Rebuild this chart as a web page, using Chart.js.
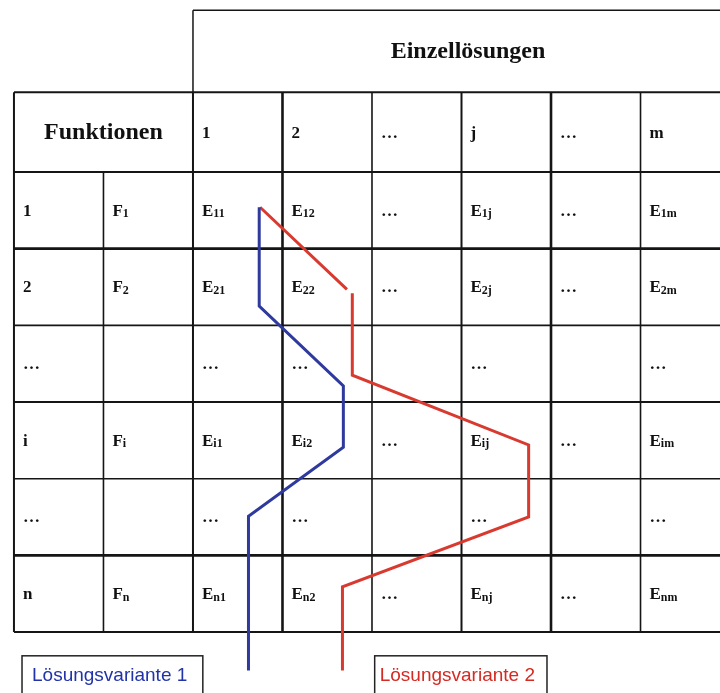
<!DOCTYPE html>
<html>
<head>
<meta charset="utf-8">
<script src="https://cdn.jsdelivr.net/npm/chart.js@4.4.0/dist/chart.umd.min.js"></script>
<style>
    html, body { margin: 0; padding: 0; background: #fff; }
</style>
</head>
<body>
<canvas id="morph_box" width="720" height="693"></canvas>
<script>
// table content
const topTitle = 'Einzellösungen';
const sideTitle = 'Funktionen';
const colHeaders = ['1', '2', '…', 'j', '…', 'm'];
const rowLabels = ['1', '2', '…', 'i', '…', 'n'];
const funcLabels = [['F', '1'], ['F', '2'], ['', ''], ['F', 'i'], ['', ''], ['F', 'n']];
const cells = [
    [['E', '11'], ['E', '12'], ['…', ''], ['E', '1j'], ['…', ''], ['E', '1m']],
    [['E', '21'], ['E', '22'], ['…', ''], ['E', '2j'], ['…', ''], ['E', '2m']],
    [['…', ''], ['…', ''], ['', ''], ['…', ''], ['', ''], ['…', '']],
    [['E', 'i1'], ['E', 'i2'], ['…', ''], ['E', 'ij'], ['…', ''], ['E', 'im']],
    [['…', ''], ['…', ''], ['', ''], ['…', ''], ['', ''], ['…', '']],
    [['E', 'n1'], ['E', 'n2'], ['…', ''], ['E', 'nj'], ['…', ''], ['E', 'nm']]
];

// solution paths, in cell units (x = column, y = row)
const variantNames = ['Lösungsvariante 1', 'Lösungsvariante 2'];
const variant1X = [2.74, 2.74, 3.68, 3.68, 2.62, 2.62];
const variant1Y = [0.46, 1.75, 2.79, 3.59, 4.49, 6.50];
const variant2X = [2.75, 3.72, null, 3.78, 3.78, 5.75, 5.75, 3.67, 3.67];
const variant2Y = [0.46, 1.53, null, 1.58, 2.65, 3.56, 4.50, 5.41, 6.50];

const toPoints = function (xs, ys) {
    return xs.map(function (x, i) {
        return { x: x === null ? NaN : x, y: ys[i] === null ? NaN : ys[i] };
    });
};

const serif = '"Liberation Serif", "DejaVu Serif", serif';
const sans = '"Liberation Sans", Arial, sans-serif';

function drawLabel(ctx, x, y, base, sub) {
    ctx.font = 'bold 17px ' + serif;
    ctx.fillText(base, x, y);
    if (sub) {
        let w = ctx.measureText(base).width;
        ctx.font = 'bold 12px ' + serif;
        ctx.fillText(sub, x + w, y + 3);
    }
}

const tablePlugin = {
    id: 'tablePlugin',
    beforeDatasetsDraw: function (chart) {
        const ctx = chart.ctx;
        const sx = chart.scales.x;
        const sy = chart.scales.y;
        const X = function (v) { return sx.getPixelForValue(v); };
        const Y = function (v) { return sy.getPixelForValue(v); };
        const right = chart.width + 5;
        const headTop = -1.04;
        const boxTop = -2.11;
        const nRows = rowLabels.length;
        const nCols = colHeaders.length + 2;

        ctx.save();
        ctx.strokeStyle = '#151515';
        const line = function (x1, y1, x2, y2, w) {
            ctx.lineWidth = w;
            ctx.beginPath();
            ctx.moveTo(x1, y1);
            ctx.lineTo(x2, y2);
            ctx.stroke();
        };
        // title box
        line(X(2), Y(boxTop), right, Y(boxTop), 1.5);
        line(X(2), Y(boxTop), X(2), Y(headTop), 1.5);
        // horizontals
        line(X(0), Y(headTop), right, Y(headTop), 2);
        const hw = [2, 2.6, 1.6, 2.2, 1.6, 2.6, 2];
        for (let r = 0; r <= nRows; r++) {
            line(X(0), Y(r), right, Y(r), hw[r]);
        }
        // verticals
        const vw = [2, 1.6, 2, 2.6, 1.6, 2, 2.6, 1.6];
        for (let c = 0; c < nCols; c++) {
            const top = c === 1 ? Y(0) : Y(headTop);
            line(X(c), top, X(c), Y(nRows), vw[c]);
        }

        // texts
        ctx.fillStyle = '#111';
        ctx.textBaseline = 'middle';
        ctx.textAlign = 'center';
        ctx.font = 'bold 24px ' + serif;
        ctx.fillText(topTitle, 468, (Y(boxTop) + Y(headTop)) / 2 + 1);
        ctx.fillText(sideTitle, X(1), (Y(headTop) + Y(0)) / 2 + 1);
        ctx.textAlign = 'left';
        const pad = 9;
        colHeaders.forEach(function (h, c) {
            ctx.font = 'bold 17px ' + serif;
            ctx.fillText(h, X(c + 2) + pad, (Y(headTop) + Y(0)) / 2 + 1);
        });
        for (let r = 0; r < nRows; r++) {
            const cy = Y(r + 0.5) + 1;
            drawLabel(ctx, X(0) + pad, cy, rowLabels[r], '');
            drawLabel(ctx, X(1) + pad, cy, funcLabels[r][0], funcLabels[r][1]);
            cells[r].forEach(function (cell, c) {
                drawLabel(ctx, X(c + 2) + pad, cy, cell[0], cell[1]);
            });
        }

        // variant labels
        ctx.font = '19px ' + sans;
        ctx.lineWidth = 1.5;
        ctx.strokeStyle = '#222';
        const boxes = [[0.09, 2.11, '#2233aa'], [4.03, 5.955, '#d42a22']];
        boxes.forEach(function (b, i) {
            const x1 = X(b[0]);
            const x2 = X(b[1]);
            const y1 = Y(6.31);
            ctx.strokeRect(x1, y1, x2 - x1, chart.height - y1 + 5);
            ctx.fillStyle = b[2];
            ctx.fillText(variantNames[i], x1 + (i === 0 ? 10 : 5), y1 + 20);
        });
        ctx.restore();
    }
};

new Chart(document.getElementById('morph_box'), {
    type: 'scatter',
    data: {
        datasets: [{
            label: variantNames[0],
            data: toPoints(variant1X, variant1Y),
            showLine: true,
            borderColor: '#2e3a9e',
            borderWidth: 3,
            pointRadius: 0,
            spanGaps: false,
        }, {
            label: variantNames[1],
            data: toPoints(variant2X, variant2Y),
            showLine: true,
            borderColor: '#d93a30',
            borderWidth: 3,
            pointRadius: 0,
            spanGaps: false,
        }]
    },
    options: {
        responsive: false,
        animation: false,
        layout: { padding: 0 },
        plugins: {
            legend: { display: false },
            tooltip: { enabled: false }
        },
        scales: {
            x: { type: 'linear', min: -0.156, max: 7.888, display: false },
            y: { type: 'linear', min: -2.243, max: 6.795, reverse: true, display: false }
        }
    },
    plugins: [tablePlugin]
});
</script>
</body>
</html>
